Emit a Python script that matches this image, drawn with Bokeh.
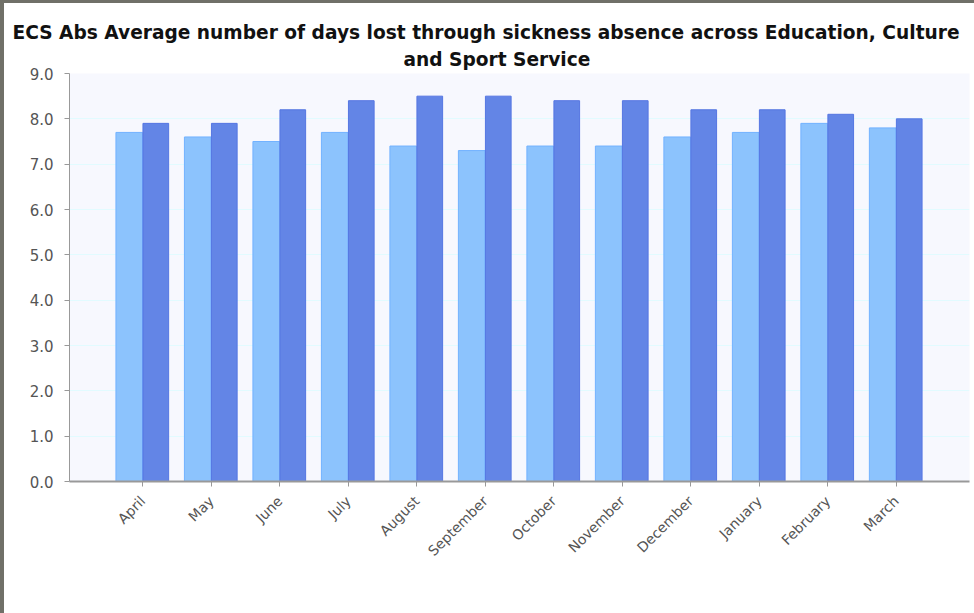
from math import pi
from bokeh.plotting import figure
from bokeh.models import (ColumnDataSource, FactorRange, FixedTicker, NumeralTickFormatter,
                          Legend, LegendItem, Title, Range1d)
from bokeh.transform import dodge
from bokeh.embed import file_html
from bokeh.resources import INLINE

months = ["April", "May", "June", "July", "August", "September", "October",
          "November", "December", "January", "February", "March"]
y2012_13 = [7.7, 7.6, 7.5, 7.7, 7.4, 7.3, 7.4, 7.4, 7.6, 7.7, 7.9, 7.8]
y2013_14 = [7.9, 7.9, 8.2, 8.4, 8.5, 8.5, 8.4, 8.4, 8.2, 8.2, 8.1, 8.0]
series_names = ["2012/13", "2013/14"]
y_ticks = [0, 1, 2, 3, 4, 5, 6, 7, 8, 9]

src = ColumnDataSource(dict(month=months, a=y2012_13, b=y2013_14))

p = figure(frame_width=900, frame_height=408, output_backend="svg", toolbar_location=None,
           x_range=FactorRange(factors=months, range_padding=0.57, range_padding_units="absolute"),
           y_range=Range1d(0, 9),
           min_border_left=69, min_border_right=5, min_border_top=73, min_border_bottom=132)
p.background_fill_color = "#f7f8fe"
p.border_fill_color = None
p.outline_line_color = None
p.styles = {"box-shadow": "inset 4px 3px 0 0 #707068"}

ra = p.vbar(x=dodge("month", -0.197, range=p.x_range), top="a", width=0.39, source=src,
            fill_color="#8cc3fd", line_color="#72b2ff", line_width=1)
rb = p.vbar(x=dodge("month", 0.19, range=p.x_range), top="b", width=0.375, source=src,
            fill_color="#6385e6", line_color="#5576e2", line_width=1)

# zero-height proxies so the legend swatches show the full series colours
proxy = ColumnDataSource(dict(month=months[:1], z=[0]))
la = p.vbar(x="month", top="z", width=0.1, source=proxy, fill_color="#1e90ff", line_color=None)
lb = p.vbar(x="month", top="z", width=0.1, source=proxy, fill_color="#4169e1", line_color=None)

legend = Legend(items=[LegendItem(label=series_names[0], renderers=[la]),
                       LegendItem(label=series_names[1], renderers=[lb])],
                orientation="horizontal", location="center",
                label_text_font="DejaVu Sans", label_text_font_size="18px",
                label_text_color="#444444", glyph_width=16, glyph_height=16,
                label_standoff=6, spacing=12, border_line_color=None,
                background_fill_color=None, margin=0, padding=0)
p.add_layout(legend, "below")

p.title.visible = False
t2 = Title(text="and Sport Service", align="left", text_font="DejaVu Sans",
           text_font_size="18.6px", text_font_style="bold", text_color="#111111",
           standoff=8, offset=334)
t1 = Title(text="ECS Abs Average number of days lost through sickness absence across Education, Culture",
           align="left", text_font="DejaVu Sans", text_font_size="18.6px",
           text_font_style="bold", text_color="#111111", standoff=0, offset=-57)
p.add_layout(t2, "above")
p.add_layout(t1, "above")

p.yaxis.ticker = FixedTicker(ticks=y_ticks)
p.yaxis.formatter = NumeralTickFormatter(format="0.0")
p.yaxis.major_label_text_font = "DejaVu Sans"
p.yaxis.major_label_text_font_size = "15px"
p.yaxis.major_label_text_color = "#555555"
p.yaxis.axis_line_color = "#999999"
p.yaxis.major_tick_line_color = "#999999"
p.yaxis.major_tick_out = 5
p.yaxis.major_tick_in = 0
p.yaxis.minor_tick_line_color = None
p.yaxis.major_label_standoff = 11

p.xaxis.major_label_orientation = pi / 4
p.xaxis.major_label_text_font = "DejaVu Sans"
p.xaxis.major_label_text_font_size = "14px"
p.xaxis.major_label_text_color = "#555555"
p.xaxis.axis_line_color = "#999999"
p.xaxis.axis_line_width = 2
p.xaxis.major_tick_line_color = "#999999"
p.xaxis.major_tick_out = 5
p.xaxis.major_tick_in = 0
p.xaxis.major_label_standoff = 12

p.xgrid.grid_line_color = None
p.ygrid.grid_line_color = "#e2fbff"
p.ygrid.grid_line_width = 1

open("out.html", "w").write(file_html(p, INLINE))
